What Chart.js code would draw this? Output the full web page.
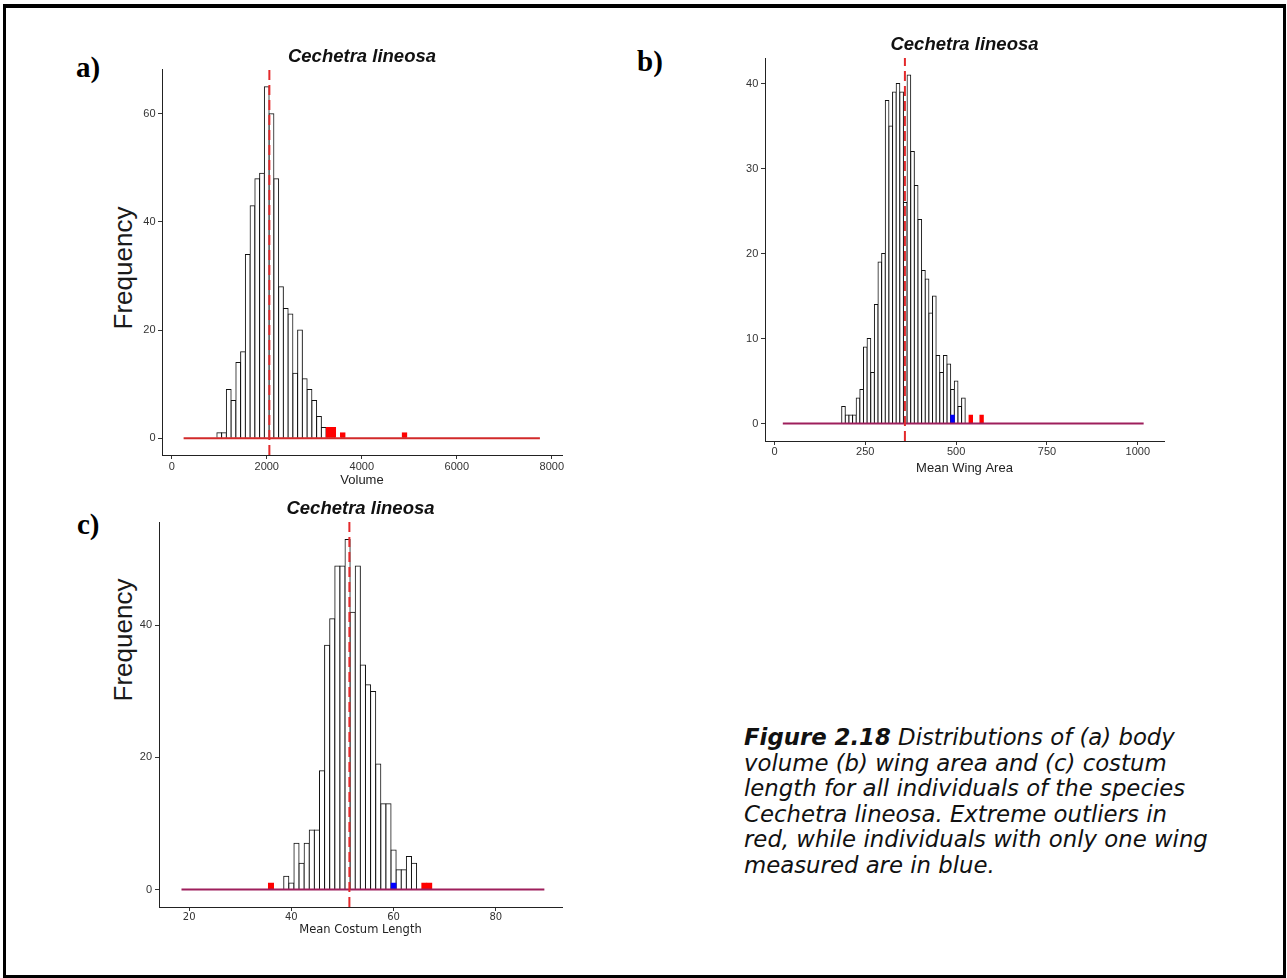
<!DOCTYPE html>
<html>
<head>
<meta charset="utf-8">
<script src="https://cdn.jsdelivr.net/npm/chart.js@4.4.1/dist/chart.umd.min.js"></script>
<style>
html,body{margin:0;padding:0;background:#fff;}
body{width:1287px;height:978px;position:relative;overflow:hidden;font-family:'Liberation Sans',Arial,sans-serif;}
#frame{position:absolute;left:3px;top:4px;width:1277px;height:967px;border:3px solid #000;border-top-width:4px;}
canvas{position:absolute;}
.plab{position:absolute;font-family:'Liberation Serif','Times New Roman',serif;font-weight:bold;font-size:29px;line-height:29px;color:#000;white-space:nowrap;}
.ylab{position:absolute;font-family:'Liberation Sans',Arial,sans-serif;font-size:26px;line-height:30px;height:30px;width:200px;text-align:center;transform:rotate(-90deg);color:#1a1a1a;}
#caption{position:absolute;left:744px;top:725px;font-family:'DejaVu Sans',sans-serif;font-size:22.8px;line-height:25.6px;font-style:italic;color:#111;white-space:nowrap;}
</style>
</head>
<body>
<div id="frame"></div>
<div class="plab" style="left:76px;top:53px;">a)</div>
<div class="plab" style="left:637px;top:47px;">b)</div>
<div class="plab" style="left:77px;top:510px;">c)</div>
<div class="ylab" style="left:23px;top:253px;">Frequency</div>
<div class="ylab" style="left:23px;top:625px;">Frequency</div>
<canvas id="chartA" width="480" height="457" style="left:95px;top:30px;"></canvas>
<canvas id="chartB" width="480" height="455" style="left:700px;top:20px;"></canvas>
<canvas id="chartC" width="480" height="456" style="left:95px;top:480px;"></canvas>
<div id="caption"><b>Figure 2.18</b> Distributions of (a) body<br>volume (b) wing area and (c) costum<br>length for all individuals of the species<br>Cechetra lineosa. Extreme outliers in<br>red, while individuals with only one wing<br>measured are in blue.</div>
<script>
// ---------- DATA ----------
// (a) body volume, bin width 100
const volumeBins = [1000,1100,1200,1300,1400,1500,1600,1700,1800,1900,2000,2100,2200,2300,2400,2500,2600,2700,2800,2900,3000,3100,3200];
const volumeCounts = [1,1,9,7,14,16,34,43,48,49,65,60,48,28,24,23,12,20,11,9,7,4,2];
const volumeOutlierBins = [3300,3400,3600,4900];
const volumeOutlierCounts = [2,2,1,1];
const volumeMean = 2055;
const volumeRange = [250, 7750];
const volumeXTicks = [0,2000,4000,6000,8000];
const volumeYTicks = [0,20,40,60];

// (b) mean wing area, bin width 10
const wingBins = [190,200,210,220,230,240,250,260,270,280,290,300,310,320,330,340,350,360,370,380,390,400,410,420,430,440,450,460,470,480,490,500,510,520];
const wingCounts = [2,1,1,1,3,4,9,10,6,14,19,20,38,35,39,40,39,26,41,32,28,24,18,17,13,15,8,6,8,7,4,5,2,3];
const wingOutlierBins = [540,570];
const wingOutlierCounts = [1,1];
const wingOneWingBins = [490];
const wingOneWingCounts = [1];
const wingMean = 359;
const wingRange = [23, 1016];
const wingXTicks = [0,250,500,750,1000];
const wingYTicks = [0,10,20,30,40];

// (c) mean costum length, bin width 1
const costumBins = [39,40,41,42,43,44,45,46,47,48,49,50,51,52,53,54,55,56,57,58,59,60,61,62,63,64];
const costumCounts = [2,1,7,4,7,9,9,18,37,41,49,49,53,42,49,34,31,30,19,13,13,6,3,3,5,4];
const costumOutlierBins = [36,66,67];
const costumOutlierCounts = [1,1,1];
const costumOneWingBins = [60];
const costumOneWingCounts = [1];
const costumMean = 51.35;
const costumRange = [18.5, 89.5];
const costumXTicks = [20,40,60,80];
const costumYTicks = [0,20,40];

const speciesTitle = 'Cechetra lineosa';

// ---------- BUILD ----------
Chart.defaults.font.family = "'Liberation Sans', Arial, sans-serif";
const toPts = (xs, ys) => xs.map((x, i) => ({x: x, y: ys[i]}));

function barSet(pts, fill, stroke, order) {
  return {type: 'bar', data: pts, backgroundColor: fill, borderColor: stroke, borderWidth: 1,
          inflateAmount: 0.5, grouped: false, barPercentage: 1, categoryPercentage: 1, order: order};
}

function makeChart(id, p) {
  const datasets = [
    {type: 'line', data: [{x: p.mean, y: p.yMin}, {x: p.mean, y: p.yMax}], borderColor: '#e3292b',
     borderWidth: 2, borderDash: [10, 5], pointRadius: 0, order: 0},
    {type: 'line', data: p.range.map(x => ({x: x, y: 0})), borderColor: p.zeroColor,
     borderWidth: 2, pointRadius: 0, order: 1},
    barSet(p.outliers, '#ff0000', '#ff0000', 2)
  ];
  if (p.oneWing) datasets.push(barSet(p.oneWing, '#0000ff', '#0000ff', 3));
  datasets.push(barSet(p.main, '#ffffff', '#111111', 4));

  return new Chart(document.getElementById(id), {
    type: 'bar',
    data: {datasets: datasets},
    options: {
      responsive: false, animation: false, devicePixelRatio: 1,
      layout: {padding: {left: 0, top: 0, right: p.padRight, bottom: 0}},
      plugins: {
        legend: {display: false}, tooltip: {enabled: false},
        title: {display: true, text: speciesTitle, fullSize: false, color: '#111',
                font: {family: "'Liberation Sans', Arial, sans-serif", size: 18.5, style: 'italic', weight: 'bold', lineHeight: 1.2},
                padding: {top: p.titlePadTop, bottom: p.titlePadBottom}}
      },
      scales: {
        x: {type: 'linear', min: p.xMin, max: p.xMax, bounds: 'data', offset: false,
            afterBuildTicks: s => { s.ticks = p.xTicks.map(v => ({value: v})); },
            afterFit: s => { s.height = p.xHeight; },
            grid: {display: true, drawOnChartArea: false, drawTicks: true, tickLength: 4, color: '#333', offset: false},
            border: {display: true, color: '#222', width: 1},
            ticks: {autoSkip: false, maxRotation: 0, minRotation: 0, padding: p.xTickPad, color: '#333',
                    font: p.xTickFont, callback: v => String(v)},
            title: {display: true, text: p.xTitle, color: '#222', font: p.xTitleFont, padding: {top: 0, bottom: 0}}},
        y: {type: 'linear', min: p.yMin, max: p.yMax, bounds: 'data',
            afterBuildTicks: s => { s.ticks = p.yTicks.map(v => ({value: v})); },
            afterFit: s => { s.width = p.yWidth; },
            grid: {display: true, drawOnChartArea: false, drawTicks: true, tickLength: 4, color: '#333'},
            border: {display: true, color: '#222', width: 1},
            ticks: {autoSkip: false, padding: p.yTickPad, color: '#333',
                    font: {family: "'Liberation Sans', Arial, sans-serif", size: 11}, callback: v => String(v)}}
      }
    }
  });
}

const libTick = {family: "'Liberation Sans', Arial, sans-serif", size: 11, lineHeight: 1.2};
const libTitle = {family: "'Liberation Sans', Arial, sans-serif", size: 13, lineHeight: 1};

makeChart('chartA', {
  main: toPts(volumeBins, volumeCounts), outliers: toPts(volumeOutlierBins, volumeOutlierCounts), oneWing: null,
  mean: volumeMean, range: volumeRange, zeroColor: '#d22a2a',
  xMin: -205, xMax: 8215, yMin: -3.1, yMax: 68.3, xTicks: volumeXTicks, yTicks: volumeYTicks,
  xTitle: 'Volume', xTickFont: libTick, xTitleFont: libTitle,
  padRight: 13, yWidth: 67, xHeight: 32, titlePadTop: 15.6, titlePadBottom: 1.2, xTickPad: 1.4, yTickPad: 2.5
});

makeChart('chartB', {
  main: toPts(wingBins, wingCounts), outliers: toPts(wingOutlierBins, wingOutlierCounts), oneWing: toPts(wingOneWingBins, wingOneWingCounts),
  mean: wingMean, range: wingRange, zeroColor: '#9e1f5c',
  xMin: -26, xMax: 1072, yMin: -2.05, yMax: 43, xTicks: wingXTicks, yTicks: wingYTicks,
  xTitle: 'Mean Wing Area', xTickFont: libTick, xTitleFont: libTitle,
  padRight: 16, yWidth: 65, xHeight: 34, titlePadTop: 14.3, titlePadBottom: 1.5, xTickPad: 0, yTickPad: 2.7
});

makeChart('chartC', {
  main: toPts(costumBins, costumCounts), outliers: toPts(costumOutlierBins, costumOutlierCounts), oneWing: toPts(costumOneWingBins, costumOneWingCounts),
  mean: costumMean, range: costumRange, zeroColor: '#9e1f5c',
  xMin: 14.1, xMax: 92.95, yMin: -2.64, yMax: 55.65, xTicks: costumXTicks, yTicks: costumYTicks,
  xTitle: 'Mean Costum Length',
  xTickFont: {family: "'DejaVu Sans', sans-serif", size: 10, lineHeight: 1.2},
  xTitleFont: {family: "'DejaVu Sans', sans-serif", size: 11.5, lineHeight: 1},
  padRight: 13, yWidth: 64, xHeight: 29, titlePadTop: 17.6, titlePadBottom: 2.2, xTickPad: 0, yTickPad: 3
});
</script>
</body>
</html>
